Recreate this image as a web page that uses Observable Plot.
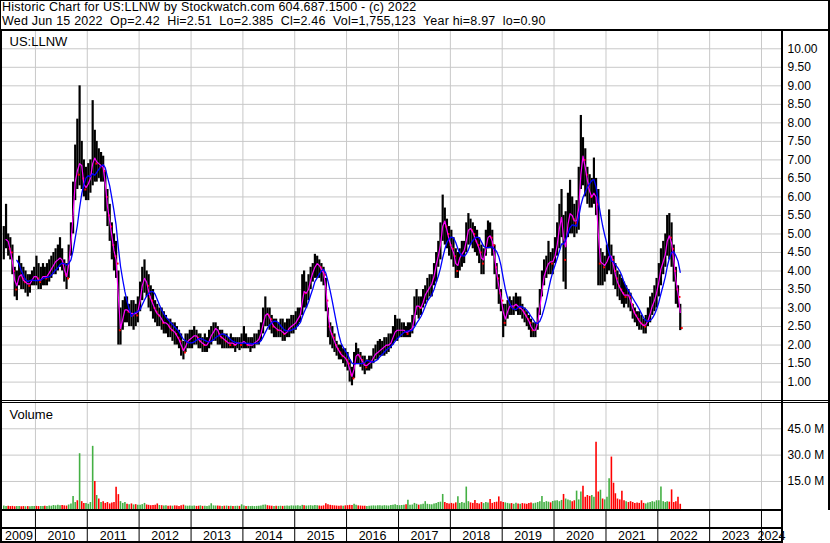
<!DOCTYPE html>
<html><head><meta charset="utf-8">
<script src="https://cdn.jsdelivr.net/npm/d3@7"></script>
<script src="https://cdn.jsdelivr.net/npm/@observablehq/plot@0.6"></script>
<style>
html,body{margin:0;padding:0;background:#fff;}
#wrap{position:relative;width:830px;height:543px;overflow:hidden;font-family:"Liberation Sans",Arial,sans-serif;font-size:12px;color:#000;}
.ln{position:absolute;background:#000;}
.hdr{position:absolute;left:2px;height:14px;font-size:12.5px;line-height:14px;letter-spacing:0.2px;white-space:pre;}
</style></head><body><div id="wrap"></div>
<script>
// ---------- texts ----------
const title = "Historic Chart for US:LLNW by Stockwatch.com 604.687.1500 - (c) 2022";
const quote = "Wed Jun 15 2022  Op=2.42  Hi=2.51  Lo=2.385  Cl=2.46  Vol=1,755,123  Year hi=8.97  lo=0.90";
const symbolLabel = "US:LLNW";
const volumeLabel = "Volume";

// ---------- ticks ----------
const priceTicks = [1,1.5,2,2.5,3,3.5,4,4.5,5,5.5,6,6.5,7,7.5,8,8.5,9,9.5,10];
const volumeTicks = [15,30,45]; // millions
const yearLabels = [2009,2010,2011,2012,2013,2014,2015,2016,2017,2018,2019,2020,2021,2022,2023,2024];

// ---------- data: half-month periods, first = second half of May 2009 ----------
const high = [
 5.2,5.8,5.0,4.9,4.7,4.1,4.0,4.4,4.2,4.1,4.0,3.9,3.9,4.0,4.1,
 4.4,4.2,4.1,4.2,4.1,4.2,4.3,4.4,4.5,4.6,4.7,4.9,4.6,4.3,4.2,4.7,5.3,6.4,7.4,8.1,9.0,7.5,7.0,6.8,
 6.9,7.0,8.6,7.8,7.5,7.3,7.2,7.1,6.7,6.2,5.8,5.3,5.0,4.8,4.0,3.0,3.2,3.3,3.3,3.1,3.2,3.2,3.1,3.3,
 3.7,4.1,4.3,4.0,3.9,3.6,3.5,3.2,3.1,3.0,3.0,2.9,2.8,2.7,2.7,2.6,2.6,2.5,2.4,2.3,2.1,2.3,2.3,2.4,
 2.4,2.5,2.4,2.3,2.3,2.2,2.3,2.2,2.4,2.5,2.6,2.6,2.5,2.4,2.4,2.3,2.3,2.2,2.3,2.2,2.2,2.2,2.2,2.3,
 2.5,2.3,2.2,2.2,2.2,2.3,2.3,2.4,2.6,3.0,3.3,3.0,3.0,2.8,2.7,2.7,2.6,2.7,2.7,2.6,2.7,2.7,2.8,2.8,
 2.9,3.0,3.0,3.9,4.0,3.7,3.9,4.1,4.2,4.45,4.4,4.3,4.2,4.1,3.8,3.0,2.6,2.5,2.3,2.1,2.0,2.0,1.9,1.9,
 1.8,1.6,1.4,1.8,2.05,1.9,1.8,1.7,1.7,1.6,1.7,1.7,1.9,2.0,2.1,2.15,2.1,2.2,2.2,2.3,2.3,2.5,2.8,2.7,
 2.7,2.6,2.6,2.5,2.6,2.6,2.8,3.3,3.5,3.3,3.3,3.5,3.6,3.8,3.9,3.9,4.2,4.5,4.8,5.3,6.05,5.7,5.4,5.2,
 5.1,4.9,4.6,4.5,4.6,4.8,4.8,5.3,5.55,5.4,5.3,5.2,5.1,4.9,4.7,4.6,5.1,5.35,5.3,5.1,4.7,4.2,3.9,3.5,
 3.1,3.1,3.2,3.3,3.2,3.3,3.4,3.3,3.3,3.1,3.0,2.9,2.8,2.7,2.6,2.6,3.0,3.5,4.0,4.3,4.4,4.8,4.5,4.6,
 4.9,5.3,5.8,6.2,5.5,5.6,6.1,6.45,6.0,5.8,5.9,6.8,8.2,7.6,7.3,6.8,6.6,6.5,7.05,6.5,6.2,4.6,4.5,4.4,
 4.7,5.65,4.7,4.4,4.2,4.0,3.9,3.8,3.7,3.6,3.5,3.4,3.1,3.0,2.9,2.9,2.8,2.7,2.8,3.0,3.3,3.4,3.6,3.8,
 4.2,4.6,4.8,5.0,5.5,5.55,5.3,4.7,4.1,3.6,3.1
];
const low = [
 4.3,4.6,4.4,4.3,3.9,3.3,3.2,3.6,3.5,3.5,3.4,3.3,3.4,3.6,3.6,
 3.6,3.5,3.5,3.6,3.6,3.6,3.7,3.8,3.9,3.9,4.0,4.1,4.0,3.7,3.5,3.8,4.4,5.0,5.9,6.2,6.3,6.2,6.0,5.9,
 5.9,6.1,6.3,6.4,6.4,6.5,6.4,6.4,5.6,5.2,4.8,4.3,4.0,3.8,2.0,2.0,2.4,2.6,2.6,2.5,2.5,2.4,2.5,2.6,
 2.9,3.2,3.4,3.3,3.0,2.9,2.7,2.6,2.5,2.5,2.4,2.3,2.3,2.2,2.2,2.1,2.0,2.0,1.9,1.7,1.6,1.8,1.9,1.9,
 1.9,2.0,2.0,1.9,1.9,1.8,1.8,1.8,1.9,2.0,2.1,2.1,2.0,2.0,1.9,1.9,1.9,1.9,1.9,1.9,1.8,1.9,1.85,1.9,
 1.9,1.9,1.9,1.8,1.9,1.9,2.0,2.0,2.1,2.3,2.5,2.5,2.4,2.3,2.2,2.2,2.2,2.2,2.1,2.1,2.2,2.2,2.3,2.3,
 2.4,2.5,2.6,2.8,3.0,3.0,3.2,3.5,3.7,3.8,3.8,3.8,3.7,3.6,2.9,2.2,2.0,1.9,1.8,1.7,1.6,1.6,1.5,1.4,
 1.3,1.0,0.9,1.1,1.5,1.5,1.4,1.3,1.2,1.3,1.3,1.35,1.5,1.6,1.6,1.7,1.7,1.7,1.75,1.8,1.9,2.0,2.1,2.1,
 2.2,2.2,2.2,2.2,2.2,2.2,2.3,2.5,2.8,2.7,2.8,3.0,3.1,3.2,3.3,3.3,3.6,3.7,4.1,4.3,4.8,4.7,4.6,4.4,
 4.3,4.1,3.8,3.8,4.0,4.1,4.2,4.5,4.7,4.7,4.6,4.5,4.4,4.2,3.9,3.9,4.4,4.6,4.6,4.4,3.9,3.5,3.1,2.9,
 2.2,2.5,2.7,2.8,2.8,2.8,2.9,2.8,2.8,2.7,2.6,2.5,2.4,2.2,2.2,2.2,2.4,2.8,3.3,3.6,3.8,3.9,3.9,3.9,
 4.2,4.4,4.6,4.9,3.7,3.5,4.9,5.0,5.0,4.9,5.0,5.1,6.2,6.3,6.0,5.8,5.7,5.7,5.8,5.5,3.6,3.6,3.6,3.7,
 3.9,4.0,3.9,3.6,3.5,3.3,3.2,3.1,3.0,3.1,3.0,2.9,2.7,2.6,2.5,2.4,2.4,2.3,2.3,2.5,2.6,2.8,2.9,3.0,
 3.3,3.6,3.9,4.1,4.4,4.3,4.1,3.7,3.1,3.0,2.39
];
const close = [
 4.7,5.0,4.6,4.5,4.0,3.5,3.7,4.0,3.8,3.7,3.7,3.6,3.7,3.8,3.9,
 3.8,3.7,3.8,3.9,3.8,3.9,4.0,4.1,4.2,4.3,4.3,4.4,4.2,3.9,3.8,4.5,5.0,6.0,6.8,6.6,7.2,6.5,6.2,6.3,
 6.4,6.6,7.2,6.9,7.0,6.8,6.9,6.7,6.0,5.5,5.2,4.7,4.4,4.2,2.4,2.5,2.9,3.0,2.9,2.9,2.8,2.9,2.8,3.0,
 3.4,3.8,3.8,3.6,3.3,3.2,3.0,2.9,2.8,2.8,2.6,2.6,2.6,2.5,2.4,2.4,2.3,2.2,2.1,1.9,1.8,2.1,2.1,2.2,
 2.2,2.3,2.2,2.1,2.1,2.0,2.0,2.0,2.2,2.3,2.4,2.5,2.3,2.2,2.2,2.1,2.1,2.0,2.1,2.0,2.0,2.1,2.0,2.1,
 2.1,2.0,2.0,2.0,2.0,2.1,2.1,2.2,2.4,2.7,2.9,2.8,2.7,2.5,2.5,2.4,2.4,2.4,2.3,2.3,2.4,2.5,2.5,2.6,
 2.6,2.8,2.8,3.5,3.4,3.4,3.6,3.9,4.0,4.2,4.2,4.1,4.0,3.9,3.2,2.5,2.3,2.2,2.0,1.9,1.8,1.7,1.7,1.6,
 1.5,1.2,1.1,1.6,1.8,1.7,1.6,1.5,1.4,1.5,1.5,1.6,1.7,1.8,1.8,1.9,1.9,2.0,2.0,2.0,2.1,2.3,2.4,2.4,
 2.4,2.4,2.4,2.3,2.4,2.4,2.5,3.0,3.1,3.0,3.0,3.3,3.4,3.5,3.6,3.7,4.0,4.3,4.5,4.9,5.5,5.2,5.0,4.7,
 4.6,4.4,4.0,4.3,4.4,4.5,4.6,5.0,5.2,5.1,5.0,4.8,4.7,4.5,4.2,4.4,4.8,5.0,4.9,4.7,4.1,3.8,3.4,3.2,
 2.6,2.8,3.0,3.1,3.0,3.1,3.1,3.0,3.0,2.9,2.8,2.7,2.6,2.4,2.4,2.4,2.8,3.2,3.7,4.0,4.1,4.3,4.2,4.3,
 4.5,4.9,5.4,5.5,4.3,5.0,5.5,5.6,5.4,5.3,5.4,6.0,7.2,7.0,6.6,6.3,6.0,6.0,6.2,5.8,4.2,4.3,4.1,4.2,
 4.3,4.5,4.3,4.0,3.8,3.6,3.5,3.4,3.3,3.4,3.3,3.1,2.9,2.8,2.7,2.6,2.55,2.5,2.6,2.7,3.0,3.1,3.3,3.5,
 3.9,4.2,4.3,4.6,5.0,4.9,4.6,4.0,3.5,3.3,2.46
];
const volume = [ // millions, largest day in each half-month
 1.0,0.8,0.9,0.7,0.8,0.6,0.7,0.8,0.6,0.7,0.6,0.7,0.6,0.8,0.7,
 0.8,0.7,0.8,0.7,0.9,0.8,1.0,0.9,1.3,1.1,1.5,1.2,1.3,1.1,1.0,1.6,2.2,6.4,3.0,4.0,30.8,3.5,2.5,2.5,
 2.0,3.0,35.0,15.0,7.0,5.0,3.0,3.5,2.5,3.0,2.2,2.8,3.0,11.7,7.5,3.5,2.5,3.0,2.0,1.8,2.2,1.6,1.8,1.5,
 1.5,1.8,2.5,1.6,1.4,1.2,1.3,1.5,2.2,1.3,1.2,1.0,1.1,0.9,1.0,0.9,1.1,1.0,0.8,1.2,1.5,1.0,0.9,1.0,
 0.9,1.0,0.8,0.9,1.1,0.8,0.9,0.8,1.0,2.3,1.1,1.0,1.0,0.9,0.8,0.9,1.0,0.8,0.9,0.7,0.8,0.9,0.8,1.7,
 1.0,0.8,0.8,0.7,0.8,0.7,0.8,0.9,1.0,1.4,1.6,1.2,1.0,0.9,0.8,0.9,0.8,0.9,0.8,0.9,1.0,0.9,1.1,1.0,
 1.0,1.1,0.9,1.4,1.2,1.0,1.1,1.2,1.0,1.3,1.1,1.0,0.9,1.1,2.3,1.8,1.4,1.2,1.1,1.0,0.9,1.0,0.9,1.1,
 1.2,1.4,1.3,2.0,1.5,1.1,1.0,0.9,0.9,0.8,0.9,1.0,1.1,1.0,1.2,1.1,1.0,1.2,1.1,1.0,1.3,1.4,1.8,1.3,
 1.2,1.3,1.5,1.8,4.3,1.5,1.6,2.5,2.0,1.5,1.8,2.0,3.5,2.0,1.8,1.7,2.2,2.5,3.0,3.2,7.6,3.0,2.5,2.2,
 2.5,2.2,2.8,6.3,2.5,3.0,2.6,11.8,3.5,2.8,2.5,4.1,2.5,2.2,3.0,2.4,3.0,2.8,4.7,2.5,3.0,3.2,6.2,3.5,
 3.0,2.8,2.5,2.2,2.4,2.0,2.6,2.2,2.0,2.4,2.2,2.0,2.5,2.8,2.3,2.6,3.0,3.5,6.5,3.0,3.5,3.2,2.8,3.6,
 3.8,4.0,3.5,4.2,7.6,5.0,4.5,4.0,3.5,4.0,9.5,4.5,9.0,12.3,6.0,7.0,6.5,7.0,6.0,37.4,9.0,10.0,5.0,4.5,
 6.0,16.5,28.9,14.0,8.0,5.0,4.5,9.4,4.0,3.5,3.0,3.5,3.0,2.5,2.8,2.5,4.0,2.5,2.2,2.8,3.0,3.5,3.2,4.0,
 4.0,11.8,3.5,3.0,3.5,3.2,10.2,3.0,3.5,6.0,2.0
];

// ---------- build ----------
const periods = high.map((h, i) => {
  const j = i + 1; // index 0 = second half of May 2009
  const d = new Date(Date.UTC(2009, 4 + Math.floor(j / 2), j % 2 ? 23 : 8));
  return {date: d, hi: h, lo: low[i], cl: close[i], vol: volume[i],
          up: i === 0 || close[i] >= close[i - 1]};
});

const FONT = '"Liberation Sans", Arial, sans-serif';
const baseStyle = {fontFamily: FONT, fontSize: "12px", color: "#000", background: "transparent", overflow: "visible"};
const xDomain = [new Date(Date.UTC(2009, 4, 14)), new Date(Date.UTC(2024, 4, 21))];
const yearStarts = yearLabels.slice(1).map(y => new Date(Date.UTC(y, 0, 1)));
const grid = "#c8c8c8";
const green = "#44b044", red = "#ff0000";
const common = {width: 830, marginLeft: 2, marginRight: 49, marginTop: 0, marginBottom: 0, style: baseStyle};

const pricePlot = Plot.plot({
  ...common, height: 369,
  x: {type: "utc", domain: xDomain, axis: null},
  y: {domain: [0.503, 10.467], axis: null},
  marks: [
    Plot.ruleY(priceTicks, {stroke: grid, strokeOpacity: 1}),
    Plot.ruleX(yearStarts, {stroke: grid, strokeOpacity: 1}),
    Plot.ruleX(periods, {x: "date", y1: "lo", y2: "hi", stroke: "#000", strokeWidth: 2.2}),
    Plot.dot(periods.filter(d => !d.up), {x: "date", y: "cl", r: 1.1, symbol: "square", fill: red, dx: 1.5}),
    Plot.lineY(periods, Plot.windowY({k: 2, anchor: "end", strict: true}, {x: "date", y: "cl", stroke: "#ff00ff", strokeWidth: 1.2})),
    Plot.lineY(periods, Plot.windowY({k: 7, anchor: "end", strict: true}, {x: "date", y: "cl", stroke: "#0000ff", strokeWidth: 1.3})),
    Plot.axisY(priceTicks, {anchor: "right", tickSize: 0, tickPadding: 6, tickFormat: d => d.toFixed(2), fill: "#000", label: null}),
    Plot.text([symbolLabel], {frameAnchor: "top-left", dx: 7, dy: 5, fill: "#000", fontSize: 13})
  ]
});

const volPlot = Plot.plot({
  ...common, height: 106,
  x: {type: "utc", domain: xDomain, axis: null},
  y: {domain: [-0.97, 59.4], axis: null},
  marks: [
    Plot.ruleY(volumeTicks, {stroke: grid, strokeOpacity: 1}),
    Plot.ruleX(yearStarts, {stroke: grid, strokeOpacity: 1}),
    Plot.ruleX(periods, {x: "date", y1: -0.97, y2: "vol", stroke: d => d.up ? green : red, strokeWidth: 1.6}),
    Plot.axisY(volumeTicks, {anchor: "right", tickSize: 0, tickPadding: 6, tickFormat: d => d.toFixed(1) + " M", fill: "#000", label: null}),
    Plot.text([volumeLabel], {frameAnchor: "top-left", dx: 7, dy: 6, fill: "#000", fontSize: 13})
  ]
});

const yearData = yearLabels.map(y => {
  const s = Math.max(Date.UTC(y, 0, 1), +xDomain[0]);
  const e = Math.min(Date.UTC(y + 1, 0, 1), +xDomain[1]);
  return {label: String(y), mid: new Date((s + e) / 2)};
});
const axisPlot = Plot.plot({
  ...common, height: 30,
  x: {type: "utc", domain: xDomain, axis: null},
  y: {domain: [0, 1], axis: null},
  marks: [
    Plot.ruleX(yearStarts, {stroke: "#000", strokeOpacity: 1}),
    Plot.text(yearData, {x: "mid", text: "label", frameAnchor: "bottom", lineAnchor: "bottom", dy: -2, fill: "#000", fontSize: 12.5})
  ]
});

const wrap = document.getElementById("wrap");
[title, quote].forEach((t, k) => {
  const h = document.createElement("div");
  h.className = "hdr";
  h.style.top = (k * 14) + "px";
  h.textContent = t;
  wrap.appendChild(h);
});
function place(el, top) {
  el.style.position = "absolute"; el.style.left = "0px"; el.style.top = top + "px";
  wrap.appendChild(el);
}
place(pricePlot, 31);
place(volPlot, 403);
place(axisPlot, 511);

function line(l, t, w, h) {
  const d = document.createElement("div");
  d.className = "ln";
  Object.assign(d.style, {left: l + "px", top: t + "px", width: w + "px", height: h + "px"});
  wrap.appendChild(d);
}
line(0, 0, 830, 1);      // header top
line(0, 0, 1, 31);       // header left
line(0, 29, 830, 2);     // header bottom
line(0, 30, 2, 513);     // left border
line(781, 30, 2, 513);   // plot right border
line(828, 0, 2, 510);    // outer right border
line(0, 400, 830, 1);    // double separator
line(0, 402, 830, 1);
line(0, 509, 783, 2);    // volume bottom
line(0, 527, 783, 2);    // axis mid line
line(0, 541, 783, 2);    // axis bottom
</script></body></html>
